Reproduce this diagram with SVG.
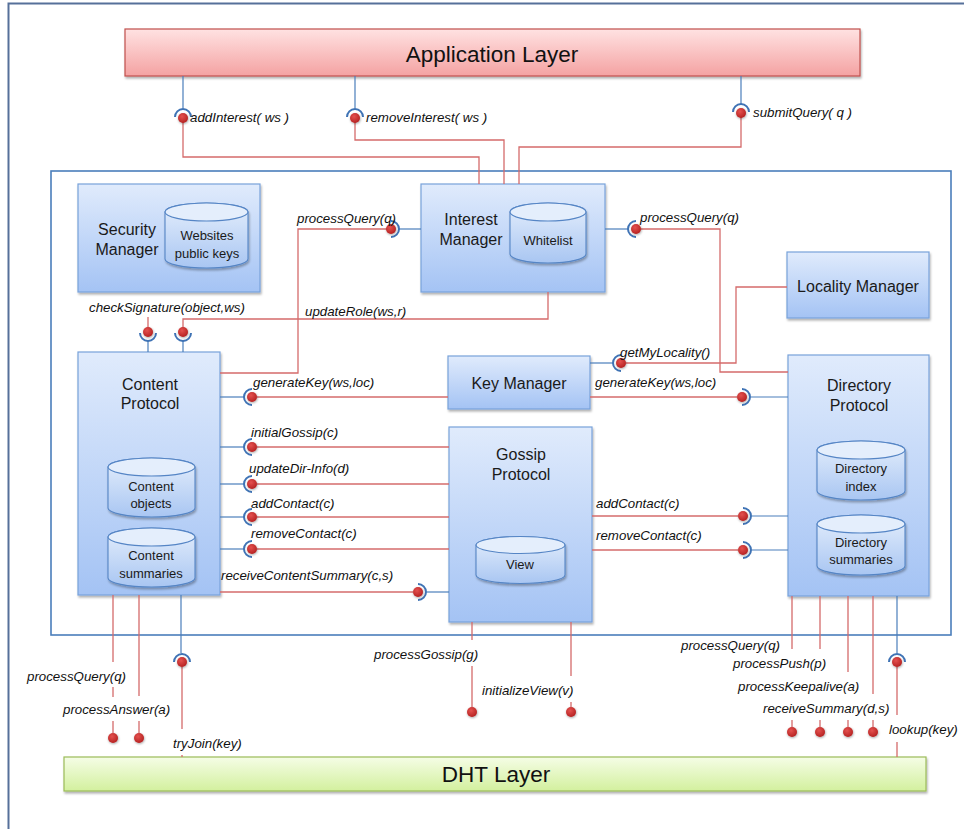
<svg xmlns="http://www.w3.org/2000/svg" width="964" height="829" viewBox="0 0 964 829">
<defs>
<linearGradient id="gBox" x1="0" y1="0" x2="0" y2="1"><stop offset="0" stop-color="#e0ebfc"/><stop offset="1" stop-color="#a4c3f4"/></linearGradient>
<linearGradient id="gCyl" x1="0" y1="0" x2="0" y2="1"><stop offset="0" stop-color="#e4eefc"/><stop offset="1" stop-color="#a9c6f2"/></linearGradient>
<linearGradient id="gApp" x1="0" y1="0" x2="0" y2="1"><stop offset="0" stop-color="#ffe2e2"/><stop offset="1" stop-color="#f4a2a2"/></linearGradient>
<linearGradient id="gDht" x1="0" y1="0" x2="0" y2="1"><stop offset="0" stop-color="#f5fde6"/><stop offset="1" stop-color="#d3f09e"/></linearGradient>
<radialGradient id="gBall" cx="0.4" cy="0.35" r="0.7"><stop offset="0" stop-color="#e4504f"/><stop offset="1" stop-color="#b3201f"/></radialGradient>
<filter id="sh" x="-10%" y="-10%" width="125%" height="130%"><feDropShadow dx="1" dy="2" stdDeviation="1.2" flood-color="#000" flood-opacity="0.3"/></filter>
<filter id="bsh" x="-50%" y="-50%" width="200%" height="200%"><feDropShadow dx="0.5" dy="1" stdDeviation="0.8" flood-color="#000" flood-opacity="0.35"/></filter>
</defs>
<style>
.box{fill:url(#gBox);stroke:#78a2da;stroke-width:1.2;filter:url(#sh)}
.cyl{fill:url(#gCyl);stroke:#5585c5;stroke-width:1.1;filter:url(#sh)}
.cylTop{fill:#e4eefc;stroke:#5585c5;stroke-width:1.1}
.t{font-family:"Liberation Sans",Arial,sans-serif;font-size:16px;fill:#1a1a1a;text-anchor:middle}
.ct{font-family:"Liberation Sans",Arial,sans-serif;font-size:13px;fill:#1a1a1a;text-anchor:middle}
.lbl{font-family:"Liberation Sans",Arial,sans-serif;font-size:13.3px;font-style:italic;fill:#111}
.big{font-family:"Liberation Sans",Arial,sans-serif;font-size:22.5px;fill:#111;text-anchor:middle}
.r{fill:none;stroke:#d56b6b;stroke-width:1.3}
.b{fill:none;stroke:#4a7ebb;stroke-width:1.2}
.sock{fill:none;stroke:#3f73b5;stroke-width:2}
.ball{fill:url(#gBall);filter:url(#bsh)}
</style>
<rect x="0" y="0" width="964" height="829" fill="#ffffff"/>
<rect x="8.5" y="3.5" width="1000" height="900" fill="none" stroke="#56709a" stroke-width="2"/>
<rect x="51" y="171" width="900" height="464" fill="none" stroke="#4a7ebb" stroke-width="1.6"/>

<g id="application-layer">
<rect x="125" y="29" width="735" height="47" fill="url(#gApp)" stroke="#c0504d" stroke-width="1.2" filter="url(#sh)"/>
<text class="big" x="492" y="62">Application Layer</text>
</g>
<g id="dht-layer">
<rect x="64" y="757" width="862" height="34" fill="url(#gDht)" stroke="#9bbb59" stroke-width="1.2" filter="url(#sh)"/>
<text class="big" x="496" y="782">DHT Layer</text>
</g>

<g id="security-manager">
<rect class="box" x="78" y="184" width="182" height="108"/>
<text class="t" x="127" y="235">Security</text>
<text class="t" x="127" y="255">Manager</text>
<path class="cyl" d="M165,212 A41.5,9 0 0 1 248,212 V259 A41.5,9 0 0 1 165,259 Z"/>
<ellipse class="cylTop" cx="206.5" cy="212" rx="41.5" ry="9"/>
<text class="ct" x="207" y="240">Websites</text>
<text class="ct" x="207" y="258">public keys</text>
</g>

<g id="interest-manager">
<rect class="box" x="421" y="184" width="184" height="108"/>
<text class="t" x="471" y="225">Interest</text>
<text class="t" x="471" y="245">Manager</text>
<path class="cyl" d="M510,212 A38,9 0 0 1 586,212 V254 A38,9 0 0 1 510,254 Z"/>
<ellipse class="cylTop" cx="548" cy="212" rx="38" ry="9"/>
<text class="ct" x="548" y="245">Whitelist</text>
</g>

<g id="locality-manager">
<rect class="box" x="787" y="252" width="142" height="66"/>
<text class="t" x="858" y="292">Locality Manager</text>
</g>

<g id="key-manager">
<rect class="box" x="448" y="356" width="142" height="53"/>
<text class="t" x="519" y="389">Key Manager</text>
</g>

<g id="content-protocol">
<rect class="box" x="78" y="352" width="142" height="243"/>
<text class="t" x="150" y="390">Content</text>
<text class="t" x="150" y="409">Protocol</text>
<path class="cyl" d="M108,467 A43.5,9 0 0 1 195,467 V508 A43.5,9 0 0 1 108,508 Z"/>
<ellipse class="cylTop" cx="151.5" cy="467" rx="43.5" ry="9"/>
<text class="ct" x="151" y="491">Content</text>
<text class="ct" x="151" y="508">objects</text>
<path class="cyl" d="M108,537 A43.5,9 0 0 1 195,537 V578 A43.5,9 0 0 1 108,578 Z"/>
<ellipse class="cylTop" cx="151.5" cy="537" rx="43.5" ry="9"/>
<text class="ct" x="151" y="560">Content</text>
<text class="ct" x="151" y="578">summaries</text>
</g>

<g id="gossip-protocol">
<rect class="box" x="449" y="427" width="143" height="195"/>
<text class="t" x="521" y="460">Gossip</text>
<text class="t" x="521" y="480">Protocol</text>
<path class="cyl" d="M476,545 A44.5,8.5 0 0 1 565,545 V575 A44.5,8.5 0 0 1 476,575 Z"/>
<ellipse class="cylTop" cx="520.5" cy="545" rx="44.5" ry="8.5"/>
<text class="ct" x="520" y="569">View</text>
</g>

<g id="directory-protocol">
<rect class="box" x="788" y="355" width="141" height="241"/>
<text class="t" x="859" y="391">Directory</text>
<text class="t" x="859" y="411">Protocol</text>
<path class="cyl" d="M817,450 A44,9 0 0 1 905,450 V491 A44,9 0 0 1 817,491 Z"/>
<ellipse class="cylTop" cx="861" cy="450" rx="44" ry="9"/>
<text class="ct" x="861" y="473">Directory</text>
<text class="ct" x="861" y="491">index</text>
<path class="cyl" d="M817,524 A44,9 0 0 1 905,524 V566 A44,9 0 0 1 817,566 Z"/>
<ellipse class="cylTop" cx="861" cy="524" rx="44" ry="9"/>
<text class="ct" x="861" y="547">Directory</text>
<text class="ct" x="861" y="564">summaries</text>
</g>

<g id="connectors">
<path class="b" d="M183,76 V108"/>
<path class="sock" d="M175,117 A8,8 0 0 1 191,117"/>
<path class="r" d="M183,122 V157 H479 V184"/>
<circle class="ball" cx="183" cy="118" r="5"/>
<path class="b" d="M355,76 V108"/>
<path class="sock" d="M347,117 A8,8 0 0 1 363,117"/>
<path class="r" d="M355,122 V140 H504 V184"/>
<circle class="ball" cx="355" cy="118" r="5"/>
<path class="b" d="M741,76 V104"/>
<path class="sock" d="M733,112 A8,8 0 0 1 749,112"/>
<path class="r" d="M741,117 V147 H519 V184"/>
<circle class="ball" cx="741" cy="113" r="5"/>

<path class="r" d="M220,373 H298 V229 H387"/>
<path class="b" d="M399,229 H421"/>
<path class="sock" d="M391,221 A8,8 0 0 1 391,237"/>
<circle class="ball" cx="391" cy="229" r="5"/>

<path class="r" d="M148,317 V328"/>
<path class="b" d="M148,341 V352"/>
<path class="sock" d="M140,333 A8,8 0 0 0 156,333"/>
<circle class="ball" cx="148" cy="332" r="5"/>

<path class="r" d="M548,292 V319 H183 V328"/>
<path class="b" d="M183,341 V352"/>
<path class="sock" d="M175,333 A8,8 0 0 0 191,333"/>
<circle class="ball" cx="183" cy="332" r="5"/>

<path class="b" d="M605,229 H628"/>
<path class="sock" d="M636,221 A8,8 0 0 0 636,237"/>
<path class="r" d="M641,229 H720 V372 H788"/>
<circle class="ball" cx="636" cy="229" r="5"/>

<path class="b" d="M590,363 H613"/>
<path class="sock" d="M621,355 A8,8 0 0 0 621,371"/>
<path class="r" d="M626,363 H736 V287 H787"/>
<circle class="ball" cx="621" cy="363" r="5"/>

<path class="r" d="M590,397 H737"/>
<path class="sock" d="M742,389 A8,8 0 0 1 742,405"/>
<path class="b" d="M750,397 H788"/>
<circle class="ball" cx="742" cy="397" r="5"/>

<path class="b" d="M220,397 H244"/>
<path class="sock" d="M252,389 A8,8 0 0 0 252,405"/>
<path class="r" d="M257,397 H448"/>
<circle class="ball" cx="252" cy="397" r="5"/>

<path class="b" d="M220,447 H244"/>
<path class="sock" d="M252,439 A8,8 0 0 0 252,455"/>
<path class="r" d="M257,447 H449"/>
<circle class="ball" cx="252" cy="447" r="5"/>

<path class="b" d="M220,484 H244"/>
<path class="sock" d="M252,476 A8,8 0 0 0 252,492"/>
<path class="r" d="M257,484 H449"/>
<circle class="ball" cx="252" cy="484" r="5"/>

<path class="b" d="M220,517 H244"/>
<path class="sock" d="M252,509 A8,8 0 0 0 252,525"/>
<path class="r" d="M257,517 H449"/>
<circle class="ball" cx="252" cy="517" r="5"/>

<path class="b" d="M220,549 H244"/>
<path class="sock" d="M252,541 A8,8 0 0 0 252,557"/>
<path class="r" d="M257,549 H449"/>
<circle class="ball" cx="252" cy="549" r="5"/>

<path class="r" d="M220,592 H413"/>
<path class="sock" d="M418,584 A8,8 0 0 1 418,600"/>
<path class="b" d="M426,592 H449"/>
<circle class="ball" cx="418" cy="592" r="5"/>

<path class="r" d="M592,516 H738"/>
<path class="sock" d="M743,508 A8,8 0 0 1 743,524"/>
<path class="b" d="M751,516 H788"/>
<circle class="ball" cx="743" cy="516" r="5"/>

<path class="r" d="M592,550 H738"/>
<path class="sock" d="M743,542 A8,8 0 0 1 743,558"/>
<path class="b" d="M751,550 H788"/>
<circle class="ball" cx="743" cy="550" r="5"/>

<path class="r" d="M113,595 V662 M113,687 V697 M113,721 V733"/>
<circle class="ball" cx="113" cy="738" r="5"/>
<path class="r" d="M139,595 V696 M139,721 V733"/>
<circle class="ball" cx="139" cy="738" r="5"/>
<path class="b" d="M181,595 V653"/>
<path class="sock" d="M174,662 A8,8 0 0 1 190,662"/>
<path class="r" d="M182,667 V729 M182,755 V757"/>
<circle class="ball" cx="182" cy="662" r="5"/>

<path class="r" d="M472,622 V640 M472,666 V707"/>
<circle class="ball" cx="472" cy="712" r="5"/>
<path class="r" d="M571,622 V676 M571,702 V707"/>
<circle class="ball" cx="571" cy="712" r="5"/>

<path class="r" d="M792,596 V649 M792,720 V727"/>
<circle class="ball" cx="792" cy="732" r="5"/>
<path class="r" d="M820,596 V649 M820,720 V727"/>
<circle class="ball" cx="820" cy="732" r="5"/>
<path class="r" d="M848,596 V672 M848,720 V727"/>
<circle class="ball" cx="848" cy="732" r="5"/>
<path class="r" d="M873,596 V694 M873,720 V727"/>
<circle class="ball" cx="873" cy="732" r="5"/>
<path class="b" d="M897,596 V653"/>
<path class="sock" d="M889,662 A8,8 0 0 1 905,662"/>
<path class="r" d="M897,667 V715 M897,742 V757"/>
<circle class="ball" cx="897" cy="662" r="5"/>
</g>

<g id="labels">
<text class="lbl" x="190" y="122">addInterest( ws )</text>
<text class="lbl" x="366" y="122">removeInterest( ws )</text>
<text class="lbl" x="753" y="117">submitQuery( q )</text>
<text class="lbl" x="297" y="223">processQuery(q)</text>
<text class="lbl" x="89" y="312">checkSignature(object,ws)</text>
<text class="lbl" x="305" y="316">updateRole(ws,r)</text>
<text class="lbl" x="640" y="222">processQuery(q)</text>
<text class="lbl" x="620" y="357">getMyLocality()</text>
<text class="lbl" x="595" y="387">generateKey(ws,loc)</text>
<text class="lbl" x="253" y="387">generateKey(ws,loc)</text>
<text class="lbl" x="251" y="437">initialGossip(c)</text>
<text class="lbl" x="249" y="473">updateDir-Info(d)</text>
<text class="lbl" x="251" y="508">addContact(c)</text>
<text class="lbl" x="251" y="538">removeContact(c)</text>
<text class="lbl" x="221" y="580">receiveContentSummary(c,s)</text>
<text class="lbl" x="596" y="508">addContact(c)</text>
<text class="lbl" x="596" y="540">removeContact(c)</text>
<text class="lbl" x="27" y="681">processQuery(q)</text>
<text class="lbl" x="63" y="714">processAnswer(a)</text>
<text class="lbl" x="173" y="748">tryJoin(key)</text>
<text class="lbl" x="374" y="659">processGossip(g)</text>
<text class="lbl" x="482" y="695">initializeView(v)</text>
<text class="lbl" x="681" y="650">processQuery(q)</text>
<text class="lbl" x="733" y="668">processPush(p)</text>
<text class="lbl" x="738" y="691">processKeepalive(a)</text>
<text class="lbl" x="763" y="713">receiveSummary(d,s)</text>
<text class="lbl" x="889" y="734">lookup(key)</text>
</g>
</svg>
